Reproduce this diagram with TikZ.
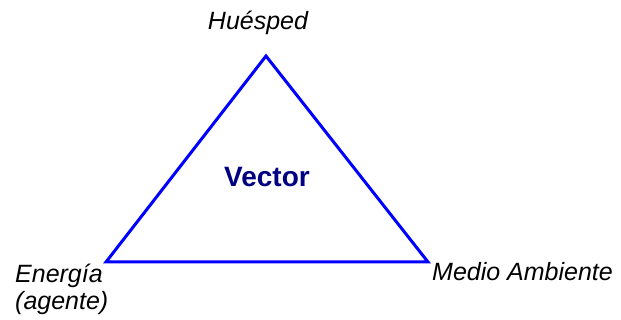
\documentclass[tikz,border=0pt]{standalone}
\usepackage{fontspec}
\setmainfont{Liberation Sans}
\usepackage{tikz}
\usetikzlibrary{positioning}
\definecolor{edgeblue}{RGB}{0,0,255}
\definecolor{navyblue}{RGB}{0,0,128}

\begin{document}
\begin{tikzpicture}[
x=1pt, y=-1pt,
every node/.style={inner sep=0pt},
side/.style={draw=edgeblue, line width=3pt, line join=miter},
corner_label/.style={font=\fontsize{25}{26}\selectfont\itshape, text=black},
center_label/.style={font=\fontsize{28}{30}\selectfont\bfseries, text=navyblue}
]

\useasboundingbox (0,0) rectangle (621,320);

% Corners of the triangle

\coordinate (top) at (266,56);
\coordinate (left) at (106,262);
\coordinate (right) at (428,262);

% Triangle

\draw[side] (top) -- (left) -- (right) -- cycle;

% Center label

\node[center_label, anchor=base] (vec) at (267,187) {Vector};

% Corner labels

\node[corner_label, anchor=base] (host) at (258,30) {Huésped};

\node[corner_label, anchor=base west] (energy) at (15,283) {Energía};

\node[corner_label, below=26pt of energy.base west, anchor=base west] (agent) {(agente)};

\node[corner_label, anchor=base west] (env) at (432,281) {Medio Ambiente};

\end{tikzpicture}
\end{document}
